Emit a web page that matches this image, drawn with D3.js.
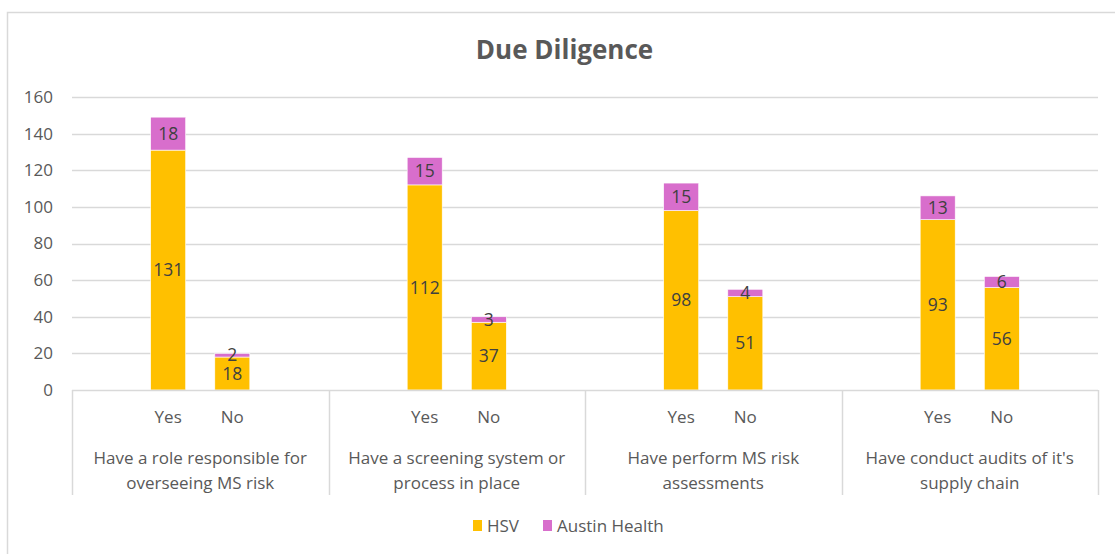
<!DOCTYPE html>
<html>
<head>
<meta charset="utf-8">
<script src="https://cdn.jsdelivr.net/npm/d3@7"></script>
<style>
  body { margin: 0; background: #fff; }
  text { font-family: "Open Sans", sans-serif; }
</style>
</head>
<body>
<script>
// chart data
const groups = [
    ["Have a role responsible for", "overseeing MS risk"],
    ["Have a screening system or", "process in place"],
    ["Have perform MS risk", "assessments"],
    ["Have conduct audits of it's", "supply chain"]
]
const answers = ["Yes", "No"]
const seriesNames = ["HSV", "Austin Health"]
const hsvValues = [[131, 18], [112, 37], [98, 51], [93, 56]]
const austinValues = [[18, 2], [15, 3], [15, 4], [13, 6]]
const yTicks = [0, 20, 40, 60, 80, 100, 120, 140, 160]
const colors = ["#FFC000", "#D86ECC"]

const chartW = 1115
const chartH = 554
const plotLeft = 72, plotRight = 1098, plotTop = 97, plotBottom = 390

const svg = d3.select("body").append("svg")
    .attr("width", chartW)
    .attr("height", chartH)

// outer chart border
svg.append("rect")
    .attr("x", 7.5).attr("y", 12.5)
    .attr("width", 1120).attr("height", 560)
    .style("fill", "#fff")
    .style("stroke", "#d9d9d9")
    .style("stroke-width", 1.5)

let y = d3.scaleLinear().domain([0, 160]).range([plotBottom, plotTop])
let xGroup = d3.scaleBand().domain(d3.range(groups.length)).range([plotLeft, plotRight])
let xSub = d3.scaleBand().domain(answers)
    .range([0, xGroup.bandwidth()])
    .paddingInner(0.454)
    .paddingOuter(1.227)

// title
svg.append("text")
    .attr("x", 564.5)
    .attr("y", 59)
    .attr("text-anchor", "middle")
    .style("font-size", "26px")
    .style("font-weight", "bold")
    .style("fill", "#595959")
    .text("Due Diligence")

// gridlines
svg.append("g").selectAll("line")
    .data(yTicks.filter(d => d > 0))
    .join("line")
    .attr("x1", plotLeft).attr("x2", plotRight)
    .attr("y1", d => Math.round(y(d)) + 0.5).attr("y2", d => Math.round(y(d)) + 0.5)
    .style("stroke", "#d9d9d9")
    .style("stroke-width", 1.5)

// y tick labels
svg.append("g").selectAll("text")
    .data(yTicks)
    .join("text")
    .attr("x", 53)
    .attr("y", d => y(d))
    .attr("dy", "0.35em")
    .attr("text-anchor", "end")
    .style("font-size", "17px")
    .style("fill", "#595959")
    .text(d => d)

// stacked rows: one per group/answer
let rows = []
groups.forEach((g, i) => {
    answers.forEach((a, j) => {
        rows.push({group: i, answer: a, HSV: hsvValues[i][j], "Austin Health": austinValues[i][j]})
    })
})
let stacked = d3.stack().keys(seriesNames)(rows)

let layers = svg.append("g").selectAll("g")
    .data(stacked)
    .join("g")
    .style("fill", (d, i) => colors[i])

layers.selectAll("rect")
    .data(d => d)
    .join("rect")
    .attr("x", d => xGroup(d.data.group) + xSub(d.data.answer))
    .attr("width", xSub.bandwidth())
    .attr("y", d => y(d[1]))
    .attr("height", d => y(d[0]) - y(d[1]))
    .style("stroke", "#fff")
    .style("stroke-width", 0.6)

// data labels
layers.selectAll("text")
    .data(d => d.map(v => Object.assign({}, v, {val: v[1] - v[0]})))
    .join("text")
    .attr("x", d => xGroup(d.data.group) + xSub(d.data.answer) + xSub.bandwidth() / 2)
    .attr("y", d => y((d[0] + d[1]) / 2))
    .attr("dy", "0.35em")
    .attr("text-anchor", "middle")
    .style("font-size", "17.5px")
    .style("fill", "#404040")
    .text(d => d.val)

// category axis
svg.append("line")
    .attr("x1", plotLeft).attr("x2", plotRight)
    .attr("y1", plotBottom + 0.5).attr("y2", plotBottom + 0.5)
    .style("stroke", "#d9d9d9")
    .style("stroke-width", 1.5)

svg.append("g").selectAll("line")
    .data(d3.range(groups.length + 1))
    .join("line")
    .attr("x1", i => Math.round(plotLeft + i * xGroup.step()) + 0.5)
    .attr("x2", i => Math.round(plotLeft + i * xGroup.step()) + 0.5)
    .attr("y1", plotBottom).attr("y2", 495)
    .style("stroke", "#d9d9d9")
    .style("stroke-width", 1.5)

let groupLabels = svg.append("g").selectAll("g")
    .data(groups)
    .join("g")
    .attr("transform", (d, i) => `translate(${xGroup(i)},0)`)

groupLabels.selectAll("text.ans")
    .data(answers)
    .join("text")
    .attr("class", "ans")
    .attr("x", a => xSub(a) + xSub.bandwidth() / 2)
    .attr("y", 423)
    .attr("text-anchor", "middle")
    .style("font-size", "17px")
    .style("fill", "#595959")
    .text(a => a)

groupLabels.selectAll("text.cat")
    .data(d => d)
    .join("text")
    .attr("class", "cat")
    .attr("x", xGroup.bandwidth() / 2)
    .attr("y", (d, k) => 464 + k * 25)
    .attr("text-anchor", "middle")
    .style("font-size", "17px")
    .style("fill", "#595959")
    .text(d => d)

// legend
let legendX = [473, 543]
let legend = svg.append("g").selectAll("g")
    .data(seriesNames)
    .join("g")
    .attr("transform", (d, i) => `translate(${legendX[i]},520)`)

legend.append("rect")
    .attr("width", 9).attr("height", 11)
    .style("fill", (d, i) => colors[i])

legend.append("text")
    .attr("x", 14)
    .attr("y", 6)
    .attr("dy", "0.35em")
    .style("font-size", "17px")
    .style("fill", "#595959")
    .text(d => d)
</script>
</body>
</html>
